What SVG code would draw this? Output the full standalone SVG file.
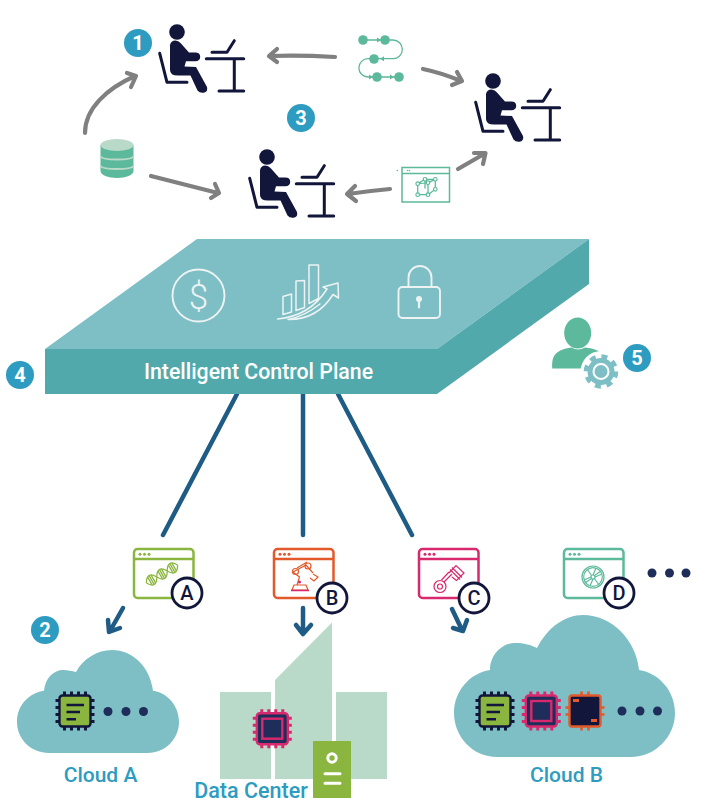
<svg xmlns="http://www.w3.org/2000/svg" width="701" height="798" viewBox="0 0 701 798">
<style>
.f{font-family:Roboto,"Liberation Sans",sans-serif}
.badge{fill:#2e9bc0}
.bt{fill:#fff;font-size:20px;font-weight:700;text-anchor:middle}
.gl{fill:none;stroke:#808080;stroke-width:4.2;stroke-linecap:round;stroke-linejoin:round}
.dk{fill:none;stroke:#12163a;stroke-width:3;stroke-linecap:round;stroke-linejoin:round}
.bl{fill:none;stroke:#1f5c85;stroke-width:4.5;stroke-linecap:round;stroke-linejoin:round}
.lc{fill:#fff;stroke:#12163a;stroke-width:2.8}
.lt{fill:#12163a;font-size:20px;font-weight:500;text-anchor:middle}
.lab{fill:#2e9bc0;font-size:21px;font-weight:500;text-anchor:middle}
.ic{fill:none;stroke:#edf3f3;stroke-width:1.9;stroke-linecap:round;stroke-linejoin:round}
.tl{fill:none;stroke:#5cb99b;stroke-width:1.3;stroke-linecap:round;stroke-linejoin:round}
.td{fill:#5cb99b}
.dot{fill:#1f2d5a}
</style>
<defs>
<g id="person">
<circle cx="0" cy="0" r="7.8" fill="#12163a"/>
<path fill="#12163a" d="M-7 13Q-6 8.500-1.700 8.500Q1.500 8.500 3.500 11L12 20.500L18.300 20.500Q23.200 20.500 23.200 24.800Q23.200 29.200 18.300 29.200L9 29.200L7.500 34.500L19 35L30 55Q31 59.500 27.500 60.500Q23 61.500 20.500 58.500L13.500 43.500L1 43.500Q-7 43.500-7 38Z"/>
<path class="dk" d="M-17.300 21.300L-10 50.300H10M29.300 26.700H66.700M57.300 26.700V59M42 59H66.700M35 20.300H50L57.300 8.700"/>
</g>
<g id="chip-green">
<path d="M-10.500-19.500v39M-3.500-19.500v39M3.500-19.500v39M10.500-19.500v39M-19.500-10.500h39M-19.500-3.500h39M-19.500 3.500h39M-19.500 10.500h39" fill="none" stroke="#12163a" stroke-width="3"/>
<rect x="-15.500" y="-15.500" width="31" height="31" rx="3" fill="#8ab53f" stroke="#12163a" stroke-width="2.400"/>
<path d="M-8.500-6H9M-8.500 1H5M-8.500 8.300H1" stroke="#12163a" stroke-width="2.600" fill="none"/>
</g>
<g id="chip-pink">
<path d="M-10.500-19.500v39M-3.500-19.500v39M3.500-19.500v39M10.500-19.500v39M-19.500-10.500h39M-19.500-3.500h39M-19.500 3.500h39M-19.500 10.500h39" fill="none" stroke="#d9296e" stroke-width="3"/>
<rect x="-15.500" y="-15.500" width="31" height="31" rx="3" fill="#1f2d5a" stroke="#d9296e" stroke-width="2.400"/>
<rect x="-10" y="-10" width="20" height="20" fill="#1f2d5a" stroke="#d9296e" stroke-width="2.400"/>
</g>
<g id="window">
<rect x="0" y="0" width="59.500" height="49" rx="3.500" fill="#fff" stroke="currentColor" stroke-width="2.500"/>
<path d="M0 10H59.500" stroke="currentColor" stroke-width="2.500"/>
<circle cx="6" cy="5.200" r="1.500" fill="currentColor"/><circle cx="10.500" cy="5.200" r="1.500" fill="currentColor"/><circle cx="15" cy="5.200" r="1.500" fill="currentColor"/>
</g>
</defs>

<g id="connectors">
<path class="gl" d="M85 133C85 108 108 88 135 76M127 73L136 76L131 87"/>
<path class="gl" d="M335 57Q300 55 270 56M277 49L269 56L277 62"/>
<path class="gl" d="M423 69Q442 73 461 81M457 72L462 81L452 85"/>
<path class="gl" d="M458 169L484 154M474 153L485.500 153L483 164"/>
<path class="gl" d="M390 189Q368 191 348 194M355 186L347 194L356 201"/>
<path class="gl" d="M151 176L218 193M215 184L219 193L211 198"/>
<path class="bl" d="M237 394L163 535M303 394V535M338 394L412 535"/>
<path class="bl" d="M123 608L110 631M108 620L109 632L120 628"/>
<path class="bl" d="M303 608V633M296 625L303 634L311 625"/>
<path class="bl" d="M452 609L462 630M453 628L463 631L467 620"/>
</g>

<g id="badge-1"><circle class="badge" cx="138" cy="43" r="14"/><text class="f bt" x="138" y="50">1</text></g>
<g id="badge-3"><circle class="badge" cx="301" cy="118" r="14"/><text class="f bt" x="301" y="125">3</text></g>
<g id="badge-4"><circle class="badge" cx="20" cy="375" r="14"/><text class="f bt" x="20" y="382">4</text></g>
<g id="badge-2"><circle class="badge" cx="45" cy="630" r="14"/><text class="f bt" x="45" y="637">2</text></g>

<g id="person-1"><use href="#person" transform="translate(177 32)"/></g>
<g id="person-2"><use href="#person" transform="translate(493 81)"/></g>
<g id="person-3"><use href="#person" transform="translate(267 157)"/></g>

<g id="workflow">
<path class="tl" d="M363 40H385H393A9.300 9.300 0 0 1 393 58.700H374H368A9 9 0 0 0 368 77H399"/>
<path class="td" d="M377 37.500L381 40L377 42.500ZM384 56.200L380 58.700L384 61.200ZM369 74.500L373 77L369 79.500ZM390 74.500L394 77L390 79.500Z"/>
<circle class="td" cx="363" cy="40" r="4.800"/><circle class="td" cx="385" cy="40" r="4.800"/><circle class="td" cx="374" cy="59" r="4.800"/><circle class="td" cx="377" cy="77" r="4.800"/><circle class="td" cx="399" cy="77" r="4.800"/>
</g>

<g id="model-window">
<rect x="402" y="167.500" width="47.500" height="34.500" fill="#fff" stroke="#5cb99b" stroke-width="1.500"/>
<path d="M402 173.500H449.500" stroke="#5cb99b" stroke-width="1.300"/>
<circle class="td" cx="397.300" cy="170.500" r=".8"/><circle class="td" cx="407.500" cy="170.500" r=".8"/><circle class="td" cx="409.500" cy="170.500" r=".8"/>
<path class="tl" d="M417.700 183.700L428 182.700V194.700H417.700ZM417.700 183.700L425 179.300H435.300V189.300L428 194.700M428 182.700L435.300 179.300M425 179.300V188"/>
<g fill="#fff" stroke="#5cb99b" stroke-width="1.200"><circle cx="417.700" cy="183.700" r="1.800"/><circle cx="428" cy="182.700" r="1.800"/><circle cx="417.700" cy="194.700" r="1.800"/><circle cx="428" cy="194.700" r="1.800"/><circle cx="425" cy="179.300" r="1.800"/><circle cx="435.300" cy="179.300" r="1.800"/><circle cx="435.300" cy="189.300" r="1.800"/></g>
</g>

<g id="database">
<path fill="#5cb99b" d="M100.500 145V171C100.500 175 108 178 117 178S133.500 175 133.500 171V145Z"/>
<path fill="none" stroke="#b9d9c9" stroke-width="1.800" d="M100.500 156.500C103 160.500 131 160.500 133.500 156.500M100.500 166C103 170 131 170 133.500 166"/>
<ellipse cx="117" cy="145" rx="16.500" ry="6" fill="#b9d9c9"/>
</g>

<g id="control-plane">
<polygon points="197,239 589,239 437,349 45,349" fill="#7dbfc5"/>
<polygon points="45,349 437,349 437,394 45,394" fill="#51a9ac"/>
<polygon points="437,349 589,239 589,284 437,394" fill="#51a9ac"/>
<circle class="ic" cx="198.500" cy="295.500" r="26"/>
<text class="f" x="198.500" y="308.500" text-anchor="middle" font-size="35" font-weight="300" fill="#edf3f3">$</text>
<path class="ic" style="stroke-width:1.500" d="M283 296.500L291.500 294V312L283 314.500ZM296 281L304.500 280.500V307.500L296 310.500ZM309 265H318.500V298.500L309 303.500ZM277.500 319Q310 316 327 289L323 287L338 283L338.500 298L333 294.500Q317 320 288 319.500Q305 316 320 304"/>
<rect class="ic" x="398.500" y="287" width="41.500" height="31" rx="4"/>
<path class="ic" d="M408.500 287V277.500A11.500 11.500 0 0 1 431.500 277.500V287"/>
<circle cx="419" cy="299" r="3" fill="#edf3f3"/><path class="ic" d="M419 300V307.500" style="stroke-width:2.200"/>
<text class="f" x="258.500" y="379" text-anchor="middle" font-size="21.300" font-weight="500" fill="#fff">Intelligent Control Plane</text>
</g>

<g id="admin">
<ellipse cx="577.700" cy="333" rx="13.500" ry="15.500" fill="#5cb99b"/>
<path fill="#5cb99b" d="M552.300 368.500C551.500 356 555 350 571.500 347.500Q578 351.500 585 347.500C597 349 601 351 604 358V368.500Z"/>
<circle cx="601" cy="371.500" r="20.500" fill="#fff"/>
<circle cx="601" cy="371.500" r="13.500" fill="#7dbfc5"/>
<circle cx="601" cy="371.500" r="14.500" fill="none" stroke="#7dbfc5" stroke-width="5.500" stroke-dasharray="5.700 5.690"/>
<circle cx="601" cy="371.500" r="7.500" fill="#7dbfc5" stroke="#fff" stroke-width="2"/>
<circle class="badge" cx="637" cy="358" r="14"/><text class="f bt" x="637" y="365">5</text>
</g>

<g id="app-a" color="#8ab53f">
<use href="#window" transform="translate(134 549)"/>
<g transform="translate(162 574) rotate(-30)" fill="none" stroke="#8ab53f" stroke-width="1.300">
<path d="M-18 0C-14-7-10-7-6 0S2 7 6 0S14-7 18 0M-18 0C-14 7-10 7-6 0S2-7 6 0S14 7 18 0"/>
<path d="M-14-4.500V4.500M-12-5V5M-10-4.500V4.500M-2-4.500V4.500M0-5V5M2-4.500V4.500M10-4.500V4.500M12-5V5M14-4.500V4.500"/>
</g>
<circle class="lc" cx="187" cy="593" r="15"/><text class="f lt" x="187" y="600">A</text>
</g>

<g id="app-b" color="#e2592b">
<use href="#window" transform="translate(274 549)"/>
<g fill="none" stroke="#e2592b" stroke-width="1.200">
<path d="M292 590L294 585H306L308 590ZM297 585L299.500 577L293 572L306 565L313 573M297 568L307 562M313 574L318 577L314 581L310 578"/>
<circle cx="295.500" cy="571.500" r="3"/><circle cx="308" cy="566" r="3"/>
</g>
<path d="M291 590.500H309" stroke="#d9296e" stroke-width="1.500"/>
<circle cx="299.500" cy="582" r="1.500" fill="#d9296e"/>
<circle class="lc" cx="332" cy="598" r="15"/><text class="f lt" x="332" y="605">B</text>
</g>

<g id="app-c" color="#d9296e">
<use href="#window" transform="translate(419 549)"/>
<g fill="none" stroke="#d9296e" stroke-width="1.200">
<circle cx="440" cy="586.500" r="6"/><circle cx="440" cy="586.500" r="2.500"/>
<path d="M444 582L452 574M441.500 580L449 572M449 573L456 565.500L464 573L456.500 580.500L452 577M450 569.500L460 579.500M452 567.500L462 577.500"/>
</g>
<circle class="lc" cx="474" cy="598" r="15"/><text class="f lt" x="474" y="605">C</text>
</g>

<g id="app-d" color="#5cb99b">
<use href="#window" transform="translate(564 549)"/>
<g fill="none" stroke="#5cb99b" stroke-width="1.200">
<circle cx="593" cy="577" r="11"/><circle cx="593" cy="577" r="9.300"/><circle cx="593" cy="577" r="2"/>
<path d="M593 575L596 568M595 577L602 574M593 579L590 586M591 577L584 580M594.500 575.500L601 571M594.500 578.500L599 585M591.500 578.500L585 583M591.500 575.500L587 569"/>
</g>
<circle class="lc" cx="619" cy="593" r="15"/><text class="f lt" x="619" y="600">D</text>
</g>
<g id="more-apps"><circle class="dot" cx="652" cy="573" r="4.500"/><circle class="dot" cx="669.500" cy="573" r="4.500"/><circle class="dot" cx="686" cy="573" r="4.500"/></g>

<g id="cloud-a">
<path fill="#7dbfc5" d="M49 753C31 753 17 739 17 722C17 705 29 693 44 690.700C45 678 54 670 63 670C68 670 72 671 76 672C83 659 97 650 112 650C133 650 150 667 153 690.700C168 693 179 706 179 722C179 739 165 753 148 753Z"/>
<use href="#chip-green" transform="translate(75 711)"/>
<circle class="dot" cx="108" cy="711.500" r="4.500"/><circle class="dot" cx="126" cy="711.500" r="4.500"/><circle class="dot" cx="143.500" cy="711.500" r="4.500"/>
<text class="f lab" x="100.500" y="782">Cloud A</text>
</g>

<g id="data-center">
<rect x="220" y="692" width="51" height="87" fill="#b9d9c9"/>
<polygon points="275,680 332,622.500 332,779 275,779" fill="#b9d9c9"/>
<rect x="336" y="692" width="51" height="87" fill="#b9d9c9"/>
<use href="#chip-pink" transform="translate(272.300 728.700)"/>
<rect x="313" y="741" width="38" height="57" fill="#8ab53f"/>
<circle cx="332" cy="758" r="4.200" fill="none" stroke="#fff" stroke-width="3"/>
<path d="M325 773.700H340M325 783.300H340" stroke="#fff" stroke-width="3" stroke-linecap="round"/>
<text class="f lab" x="251" y="797.500" style="font-size:21.500px">Data Center</text>
</g>

<g id="cloud-b">
<path fill="#7dbfc5" d="M497 757C473 757 454 737 454 713C454 691 470 673 490 670C490 655 502 643 515 643C524 643 531 645 537 648C548 627 565 615 583 615C612 615 636 640 639 670C659 673 675 691 675 713C675 737 655 757 631 757Z"/>
<use href="#chip-green" transform="translate(495 711)"/>
<use href="#chip-pink" transform="translate(541.300 711)"/>
<g id="chip-orange">
<path d="M581.500 691.500V730.500M588.500 691.500V730.500M565.500 707.500H604.500M565.500 714.500H604.500" stroke="#e2592b" stroke-width="2.600"/>
<rect x="569.500" y="695.500" width="31" height="31" rx="2.500" fill="#12163a" stroke="#e2592b" stroke-width="2.400"/>
<rect x="573" y="699" width="6" height="3" fill="#e2592b"/><rect x="591" y="719" width="6" height="3" fill="#e2592b"/>
</g>
<circle class="dot" cx="622" cy="711" r="4.500"/><circle class="dot" cx="640" cy="711" r="4.500"/><circle class="dot" cx="657.500" cy="711" r="4.500"/>
<text class="f lab" x="566.500" y="782">Cloud B</text>
</g>
</svg>
